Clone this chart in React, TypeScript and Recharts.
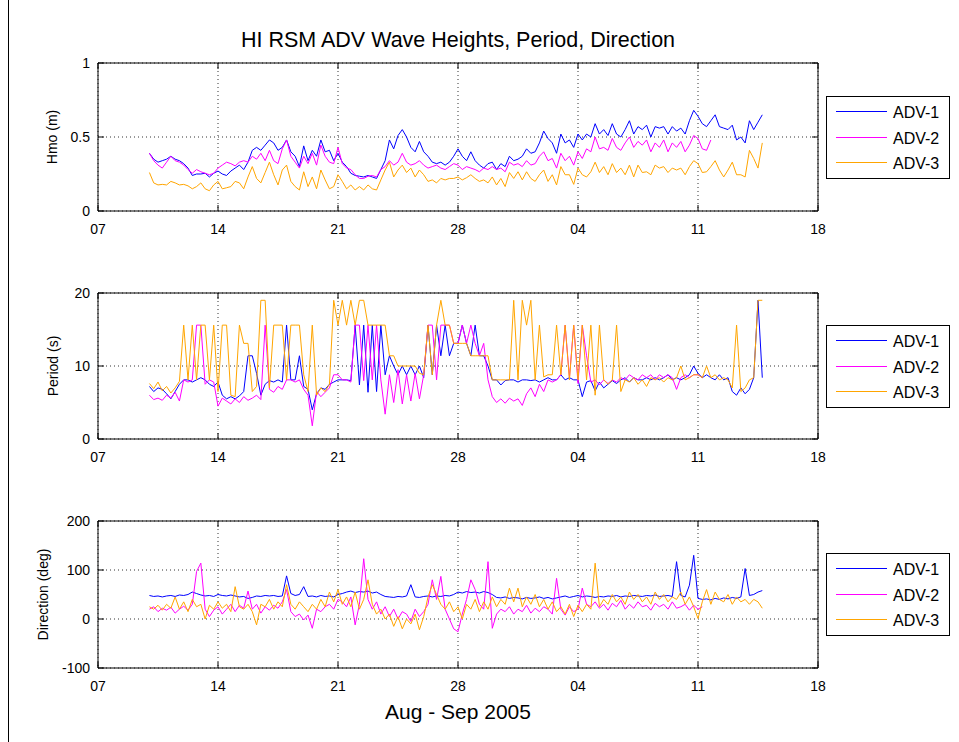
import React from "react";
import { LineChart, Line, XAxis, YAxis, CartesianGrid, ReferenceArea, Legend } from "recharts";

// samples every 6 h, starting 10 Aug (day numbers counted from 0 Aug)
const T0 = 10;
const STEP = 0.25;

const X_TICKS = [7, 14, 21, 28, 35, 42, 49];
const X_TICK_LABELS = ["07", "14", "21", "28", "04", "11", "18"];

const SERIES = [
  { key: "adv1", name: "ADV-1", color: "#0000ff" },
  { key: "adv2", name: "ADV-2", color: "#ff00ff" },
  { key: "adv3", name: "ADV-3", color: "#ffa500" },
];

// Hmo (m)
const HMO_ADV1 = [
  0.39, 0.35, 0.33, 0.34, 0.35, 0.37, 0.35, 0.34, 0.32, 0.29, 0.24, 0.25, 0.25, 0.255, 0.23, 0.255,
  0.27, 0.25, 0.24, 0.27, 0.29, 0.31, 0.28, 0.33, 0.41, 0.43, 0.41, 0.445, 0.48, 0.46, 0.41, 0.43,
  0.48, 0.4, 0.37, 0.3, 0.44, 0.34, 0.41, 0.37, 0.48, 0.4, 0.41, 0.34, 0.39, 0.33,
  0.3, 0.255, 0.24, 0.235, 0.23, 0.24, 0.23, 0.22, 0.28, 0.34, 0.48, 0.42, 0.51, 0.55, 0.5, 0.43,
  0.4, 0.47, 0.4, 0.37, 0.33, 0.32, 0.33, 0.31, 0.33, 0.37, 0.42, 0.37, 0.34, 0.4, 0.34, 0.31,
  0.29, 0.32, 0.33, 0.28, 0.32, 0.3, 0.37, 0.34, 0.35, 0.37, 0.42, 0.39, 0.4, 0.46, 0.54, 0.49,
  0.46, 0.39,
  0.52, 0.46, 0.48, 0.43, 0.52, 0.48, 0.52, 0.5, 0.59, 0.52, 0.55, 0.51, 0.59, 0.52, 0.5, 0.55,
  0.61, 0.52, 0.57, 0.55, 0.58, 0.5, 0.57, 0.56, 0.57, 0.52, 0.57, 0.54, 0.56, 0.52, 0.61, 0.68,
  0.64, 0.59, 0.57, 0.61, 0.65, 0.57, 0.56, 0.55, 0.58, 0.48, 0.5, 0.46, 0.61, 0.55, 0.6, 0.65,
];
const HMO_ADV2 = [
  0.39, 0.34, 0.31, 0.29, 0.33, 0.37, 0.34, 0.33, 0.31, 0.28, 0.255, 0.28, 0.265, 0.255, 0.245, 0.255,
  0.29, 0.31, 0.33, 0.32, 0.305, 0.33, 0.34, 0.33, 0.37, 0.35, 0.39, 0.34, 0.41, 0.34, 0.32, 0.42,
  0.48, 0.37, 0.33, 0.29, 0.37, 0.32, 0.39, 0.31, 0.445, 0.37, 0.33, 0.32, 0.43, 0.32,
  0.29, 0.28, 0.245, 0.22, 0.22, 0.235, 0.24, 0.23, 0.28, 0.3, 0.34, 0.31, 0.33, 0.39, 0.33, 0.31,
  0.32, 0.34, 0.31, 0.29, 0.3, 0.31, 0.29, 0.28, 0.3, 0.32, 0.31, 0.28, 0.3, 0.29, 0.28, 0.265,
  0.29, 0.28, 0.3, 0.28, 0.29, 0.265, 0.33, 0.31, 0.32, 0.3, 0.34, 0.31, 0.32, 0.37, 0.4, 0.34,
  0.355, 0.29,
  0.39, 0.34, 0.37, 0.31, 0.4, 0.355, 0.42, 0.4, 0.5, 0.42, 0.43, 0.41, 0.49, 0.43, 0.41, 0.46,
  0.5, 0.43, 0.47, 0.445, 0.48, 0.4, 0.46, 0.43, 0.48, 0.4, 0.46, 0.43, 0.47, 0.4, 0.445, 0.51,
  0.49, 0.42, 0.41, 0.48,
];
const HMO_ADV3 = [
  0.26, 0.19, 0.176, 0.18, 0.176, 0.2, 0.19, 0.176, 0.18, 0.17, 0.15, 0.165, 0.19, 0.15, 0.137, 0.176,
  0.2, 0.15, 0.157, 0.165, 0.2, 0.19, 0.15, 0.23, 0.3, 0.22, 0.19, 0.26, 0.33, 0.245, 0.176, 0.277,
  0.31, 0.2, 0.165, 0.142, 0.265, 0.165, 0.23, 0.15, 0.277, 0.21, 0.15, 0.165, 0.245, 0.2,
  0.15, 0.176, 0.142, 0.165, 0.142, 0.176, 0.15, 0.142, 0.21, 0.277, 0.33, 0.23, 0.277, 0.31, 0.26, 0.29,
  0.23, 0.277, 0.245, 0.2, 0.21, 0.19, 0.22, 0.21, 0.22, 0.22, 0.23, 0.21, 0.225, 0.245, 0.22, 0.2,
  0.21, 0.19, 0.23, 0.176, 0.22, 0.165, 0.26, 0.22, 0.265, 0.21, 0.265, 0.22, 0.2, 0.245, 0.277, 0.2,
  0.245, 0.176,
  0.3, 0.245, 0.245, 0.18, 0.29, 0.245, 0.23, 0.265, 0.33, 0.26, 0.3, 0.245, 0.32, 0.26, 0.29, 0.245,
  0.31, 0.23, 0.31, 0.26, 0.265, 0.245, 0.31, 0.29, 0.3, 0.26, 0.29, 0.277, 0.29, 0.245, 0.3, 0.34,
  0.32, 0.26, 0.265, 0.3, 0.34, 0.277, 0.23, 0.277, 0.33, 0.245, 0.245, 0.23, 0.41, 0.355, 0.29, 0.46,
];

// Period (s)
const PER_ADV1 = [
  7.2, 6.5, 7.0, 6.8, 6.2, 5.5, 6.5, 7.5, 8.1, 8.1, 7.8, 8.1, 8.4, 8.1, 7.5, 7.2,
  7.8, 6.0, 5.5, 5.8, 5.5, 5.9, 6.5, 11.4, 11.4, 9.0, 6.0, 7.5, 8.0, 7.8, 8.1, 7.8,
  15.6, 8.1, 8.1, 11.4, 7.2, 6.8, 4.0, 6.2, 7.0, 6.8, 7.5, 7.8, 8.1, 8.1,
  8.1, 8.0, 15.6, 7.4, 15.6, 6.4, 15.6, 6.5, 15.6, 8.8, 11.4, 10.0, 8.8, 10.0, 8.8, 10.0,
  8.8, 10.0, 8.4, 15.6, 8.8, 15.6, 11.4, 15.6, 11.4, 13.1, 13.1, 15.6, 13.1, 11.4, 15.6, 11.4,
  11.4, 10.0, 8.1, 8.1, 7.4, 8.0, 8.1, 8.1, 7.8, 8.1, 8.1, 8.0, 8.1, 7.8, 8.1, 8.4,
  8.1, 8.1,
  8.8, 8.1, 8.4, 8.1, 8.1, 5.8, 7.8, 8.0, 6.6, 7.8, 7.0, 7.5, 8.0, 7.6, 8.1, 8.4,
  7.8, 8.4, 8.1, 8.1, 8.4, 8.1, 8.4, 8.1, 8.4, 8.8, 8.1, 8.4, 8.1, 8.4, 8.8, 10.0,
  9.0, 8.4, 8.8, 8.4, 8.1, 8.8, 8.1, 8.4, 6.5, 6.0, 7.0, 6.2, 6.8, 8.4, 19.0, 8.4,
];
const PER_ADV2 = [
  6.0, 5.4, 5.6, 5.3, 6.0, 5.6, 6.4, 5.2, 8.1, 7.8, 8.1, 15.6, 15.6, 7.5, 8.1, 7.8,
  4.5, 5.6, 5.2, 4.8, 5.5, 5.0, 5.8, 5.3, 5.6, 6.0, 5.4, 15.6, 6.8, 6.4, 7.2, 6.8,
  8.1, 8.1, 7.8, 8.1, 6.8, 6.0, 1.8, 6.5, 5.8, 6.4, 7.0, 8.8, 8.8, 8.1,
  8.1, 7.8, 15.6, 15.6, 8.0, 15.6, 8.1, 15.6, 8.1, 3.4, 8.8, 5.0, 9.5, 4.8, 8.8, 5.2,
  9.0, 5.5, 8.8, 15.6, 15.6, 8.1, 15.6, 15.6, 15.6, 13.1, 13.1, 15.6, 13.1, 15.6, 13.1, 11.4,
  13.1, 8.1, 5.8, 5.0, 5.5, 4.9, 5.6, 5.2, 5.5, 4.6, 6.2, 7.0, 5.8, 7.5, 6.5, 8.1,
  7.8, 8.1,
  8.8, 15.6, 8.4, 15.6, 7.6, 15.6, 11.4, 7.8, 8.1, 7.4, 8.1, 7.6, 8.1, 7.8, 8.4, 8.1,
  8.8, 8.4, 8.1, 8.8, 8.4, 8.8, 8.1, 8.8, 8.4, 8.8, 8.4, 6.8, 8.4, 8.8, 8.4, 8.8,
  8.8, 8.4,
];
const PER_ADV3 = [
  7.6, 6.9, 7.8, 6.6, 7.2, 6.3, 7.0, 7.9, 15.6, 8.1, 15.6, 8.1, 15.6, 15.6, 8.1, 15.6,
  6.5, 15.6, 15.6, 6.0, 5.8, 15.6, 13.1, 13.1, 6.5, 7.2, 19.0, 19.0, 7.0, 15.6, 15.6, 15.6,
  8.1, 15.6, 15.6, 15.6, 8.8, 6.5, 15.6, 6.0, 7.0, 6.5, 7.5, 19.0, 15.6, 19.0,
  15.6, 19.0, 15.6, 19.0, 19.0, 15.6, 15.6, 15.6, 15.6, 15.6, 11.4, 11.4, 10.0, 10.0, 10.0, 10.0,
  10.0, 9.0, 8.8, 15.6, 8.8, 15.6, 19.0, 15.6, 15.6, 13.1, 13.1, 13.1, 13.1, 11.4, 11.4, 11.4,
  11.4, 11.4, 8.1, 8.1, 8.1, 8.1, 8.1, 19.0, 8.1, 19.0, 15.6, 19.0, 8.1, 15.6, 8.5, 8.8,
  8.8, 15.6,
  8.8, 15.6, 8.1, 15.6, 8.1, 15.6, 8.1, 15.6, 6.0, 15.6, 8.1, 7.5, 8.1, 15.6, 6.5, 8.1,
  7.8, 8.4, 7.5, 8.1, 7.2, 8.4, 8.1, 8.4, 7.8, 8.4, 8.1, 8.4, 10.0, 8.1, 8.4, 8.8,
  8.8, 8.4, 10.0, 8.4, 8.8, 8.1, 8.4, 8.1, 7.0, 15.6, 6.5, 7.0, 8.1, 8.4, 19.0, 19.0,
];

// Direction (deg)
const DIR_ADV1 = [
  48, 46, 47, 45, 47, 48, 46, 49, 48, 50, 55, 52, 49, 47, 48, 46,
  50, 48, 47, 49, 47, 45, 46, 42, 44, 47, 46, 48, 47, 48, 46, 47,
  88, 52, 48, 50, 66, 46, 47, 45, 48, 46, 47, 45, 50, 52,
  55, 57, 54, 56, 55, 57, 53, 55, 50, 46, 45, 44, 46, 45, 47, 70,
  45, 44, 46, 47, 45, 47, 46, 48, 47, 50, 55, 53, 56, 54, 55, 53,
  56, 54, 50, 44, 43, 45, 42, 44, 43, 41, 44, 42, 43, 45, 42, 44,
  41, 43,
  45, 47, 44, 46, 48, 45, 47, 46, 44, 46, 45, 47, 46, 48, 45, 47,
  46, 48, 47, 46, 48, 47, 49, 46, 47, 48, 46, 117, 48, 45, 69, 130,
  42, 40, 41, 39, 42, 40, 43, 41, 44, 42, 45, 103, 48, 50, 55, 58,
];
const DIR_ADV2 = [
  20, 25, 15, 22, 18, 24, 12, 20, 26, 18, 30, 97, 114, 20, 5, 18,
  25, 10, 20, 30, 15, 28, 22, 57, 20, 30, 12, 25, 18, 28, 22, 35,
  60, 15, 5, 10, -2, 8, -19, 20, 15, 25, 30, 20, 40, 35,
  25, 45, -12, 30, 123, 40, 20, 35, 10, 25, 5, 20, 0, 15, 10, -5,
  20, 5, 15, 30, 80, 40, 87, 20, 0, -20, -26, 10, 40, 80, 60, 30,
  20, 117, -19, 10, 20, 15, 25, 10, 20, 15, 28, 12, 22, 15, 25, 20,
  10, 83,
  20, 8, 25, 15, 20, 63, 30, 25, 35, 22, 30, 18, 32, 25, 38, 20,
  30, 22, 35, 25, 28, 18, 32, 25, 30, 20, 35, 22, 25, 30, 18, 28,
  20, 25,
];
const DIR_ADV3 = [
  25, 20, 28, 18, 30, 22, 45, 20, 35, 15, 40, 25, 30, 0, 28, 20,
  35, 22, 30, 15, 66, 25, 20, 30, 15, -12, 30, 25, 40, 20, 35, 25,
  70, 30, 20, 35, 25, 15, 30, 20, 40, 25, 55, 35, 60, 30,
  45, 25, 55, 20, 40, 80, 30, 10, 20, 0, 10, -15, 5, -20, 0, -10,
  10, -22, 5, 45, 70, 50, 30, 20, 35, 15, 25, 0, 30, 20, 40, 15,
  35, 20, 45, 25, 40, 30, 63, 35, 63, 25, 45, 30, 50, 25, 40, 20,
  35, 15,
  25, 10, 30, 5, 28, 15, 30, 20, 114, 25, 40, 30, 50, 35, 45, 30,
  55, 40, 50, 35, 45, 30, 55, 40, 50, 35, 45, 40, 55, 30, 45, 25,
  1, 35, 60, 30, 55, 40, 35, 50, 30, 45, 35, 40, 30, 40, 35, 22,
];

const FONT = '"Liberation Sans", Arial, Helvetica, sans-serif';
const FIG_W = 959;
const FIG_H = 742;
const PLOT_LEFT = 98;
const PLOT_RIGHT = 818;
const PAD_TOP = 20;
const AXIS_H = 40;
const TICK_LEN = 6;

const PANELS = [
  { id: "hmo", top: 63, bottom: 211, domain: [0, 1], ticks: [0, 0.5, 1], label: "Hmo (m)", labelX: 57, a1: HMO_ADV1, a2: HMO_ADV2, a3: HMO_ADV3 },
  { id: "per", top: 293, bottom: 439, domain: [0, 20], ticks: [0, 10, 20], label: "Period (s)", labelX: 58, a1: PER_ADV1, a2: PER_ADV2, a3: PER_ADV3 },
  { id: "dir", top: 521, bottom: 668, domain: [-100, 200], ticks: [-100, 0, 100, 200], label: "Direction (deg)", labelX: 48, a1: DIR_ADV1, a2: DIR_ADV2, a3: DIR_ADV3 },
];

function XTick(props: any) {
  const { x, payload, plotTop, plotBottom } = props;
  const label = X_TICK_LABELS[X_TICKS.indexOf(payload.value)];
  return (
    <g>
      <line x1={x} x2={x} y1={plotBottom} y2={plotBottom - TICK_LEN} stroke="#000" />
      <line x1={x} x2={x} y1={plotTop} y2={plotTop + TICK_LEN} stroke="#000" />
      <text x={x} y={plotBottom + 23} textAnchor="middle" fontSize={14} fontFamily={FONT} fill="#000">
        {label}
      </text>
    </g>
  );
}

function YTick(props: any) {
  const { y, payload } = props;
  return (
    <g>
      <line x1={PLOT_LEFT} x2={PLOT_LEFT + TICK_LEN} y1={y} y2={y} stroke="#000" />
      <line x1={PLOT_RIGHT} x2={PLOT_RIGHT - TICK_LEN} y1={y} y2={y} stroke="#000" />
      <text x={90} y={y + 5} textAnchor="end" fontSize={14} fontFamily={FONT} fill="#000">
        {String(payload.value)}
      </text>
    </g>
  );
}

function LegendBox() {
  return (
    <svg width={124} height={83} style={{ display: "block" }}>
      <rect x={0.5} y={0.5} width={123} height={82} fill="#fff" stroke="#000" />
      {SERIES.map((s, i) => {
        const y = Math.round(15 + i * 25.5) + 0.5;
        return (
          <g key={s.key}>
            <line x1={10} x2={61} y1={y} y2={y} stroke={s.color} strokeWidth={1} />
            <text x={67} y={y + 6} fontSize={16} fontFamily={FONT} fill="#000">
              {s.name}
            </text>
          </g>
        );
      })}
    </svg>
  );
}

function Panel({ p }: { p: (typeof PANELS)[number] }) {
  const plotH = p.bottom - p.top;
  const height = PAD_TOP + plotH + AXIS_H;
  const plotBottom = PAD_TOP + plotH;
  const rows = p.a1.map((v, i) => ({
    t: T0 + i * STEP,
    adv1: v ?? null,
    adv2: p.a2[i] ?? null,
    adv3: p.a3[i] ?? null,
  }));
  return (
    <div style={{ position: "absolute", left: 0, top: p.top - PAD_TOP }}>
      <LineChart
        width={FIG_W}
        height={height}
        data={rows}
        margin={{ top: PAD_TOP, right: FIG_W - PLOT_RIGHT, bottom: 0, left: 0 }}
      >
        <CartesianGrid stroke="#333" strokeDasharray="1 3" />
        <XAxis
          type="number"
          dataKey="t"
          domain={[7, 49]}
          ticks={X_TICKS}
          interval={0}
          height={AXIS_H}
          axisLine={false}
          tickLine={false}
          tick={<XTick plotTop={PAD_TOP} plotBottom={plotBottom} />}
        />
        <YAxis
          type="number"
          domain={p.domain}
          ticks={p.ticks}
          interval={0}
          width={PLOT_LEFT}
          axisLine={false}
          tickLine={false}
          tick={<YTick />}
        />
        {SERIES.map((s) => (
          <Line
            key={s.key}
            type="linear"
            dataKey={s.key}
            stroke={s.color}
            strokeWidth={1}
            dot={false}
            activeDot={false}
            connectNulls={false}
            isAnimationActive={false}
          />
        ))}
        <ReferenceArea x1={7} x2={49} y1={p.domain[0]} y2={p.domain[1]} fill="none" stroke="#000" />
        <Legend
          layout="vertical"
          align="center"
          verticalAlign="middle"
          wrapperStyle={{ left: 826, top: Math.round(PAD_TOP + plotH / 2 - 41.5), width: 124, height: 83 }}
          content={() => <LegendBox />}
        />
      </LineChart>
    </div>
  );
}

export default function App() {
  return (
    <div
      style={{
        position: "absolute",
        left: 0,
        top: 0,
        width: FIG_W,
        height: FIG_H,
        background: "#fff",
        overflow: "hidden",
        fontFamily: FONT,
      }}
    >
      <svg width={FIG_W} height={FIG_H} style={{ position: "absolute", left: 0, top: 0 }}>
        <line x1={8.5} y1={0} x2={8.5} y2={FIG_H} stroke="#000" />
        <text x={458} y={47} textAnchor="middle" fontSize={21.5} fontFamily={FONT} fill="#000">
          HI RSM ADV Wave Heights, Period, Direction
        </text>
        {PANELS.map((p) => {
          const cy = (p.top + p.bottom) / 2;
          return (
            <text
              key={p.id}
              x={p.labelX}
              y={cy}
              transform={`rotate(-90 ${p.labelX} ${cy})`}
              textAnchor="middle"
              fontSize={14}
              fontFamily={FONT}
              fill="#000"
            >
              {p.label}
            </text>
          );
        })}
        <text x={458} y={719} textAnchor="middle" fontSize={21} fontFamily={FONT} fill="#000">
          Aug - Sep 2005
        </text>
      </svg>
      {PANELS.map((p) => (
        <Panel key={p.id} p={p} />
      ))}
    </div>
  );
}
